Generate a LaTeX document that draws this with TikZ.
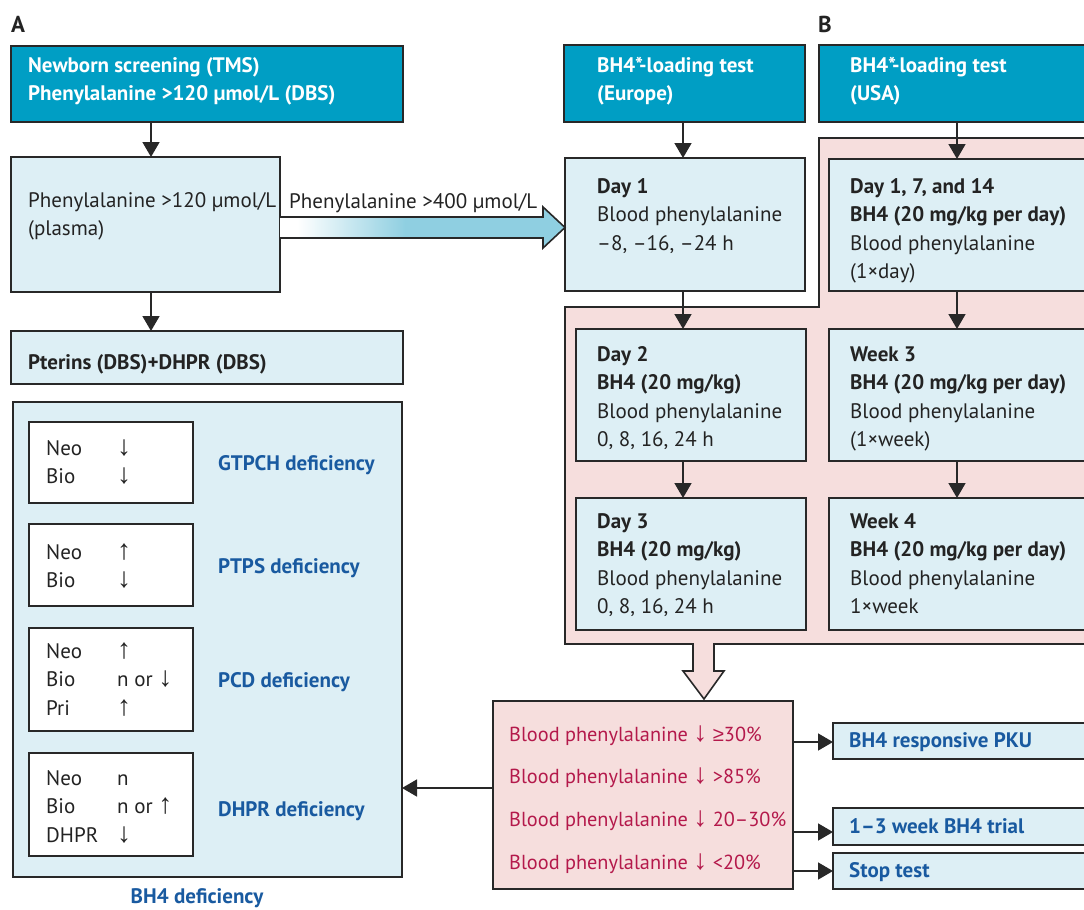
\documentclass[tikz,border=0pt]{standalone}
\usepackage{fontspec}
\setmainfont{PT Sans}
\newfontfamily\symf{Liberation Sans}
\usetikzlibrary{arrows.meta}
\definecolor{hdr}{RGB}{0,158,196}
\definecolor{lbl}{RGB}{221,239,245}
\definecolor{pnk}{RGB}{246,222,221}
\definecolor{abl}{RGB}{143,207,225}
\definecolor{redt}{RGB}{180,25,75}
\definecolor{bluet}{RGB}{25,90,160}
\definecolor{brd}{RGB}{40,40,40}
\definecolor{txt}{RGB}{35,35,35}
\pgfdeclarehorizontalshading{gshade}{100bp}{color(0bp)=(white); color(28bp)=(white); color(47bp)=(abl); color(100bp)=(abl)}
\newcommand\bodyf{\fontsize{21}{28.5}\selectfont}
\newcommand\redf{\fontsize{20.3}{42.7}\selectfont}
\newcommand\dn{{\symf\fontsize{28}{28.5}\selectfont ↓}}
\newcommand\up{{\symf\fontsize{28}{28.5}\selectfont ↑}}
\begin{document}
\begin{tikzpicture}[x=1pt,y=-1pt,
  box/.style={draw=brd, line width=1.6pt, anchor=north west, inner sep=0pt, outer sep=0pt},
  hbox/.style={box, fill=hdr},
  lbox/.style={box, fill=lbl},
  wbox/.style={box, fill=white},
  rbox/.style={box, fill=pnk},
  tx/.style={anchor=north west, inner sep=0pt, align=left, font=\bodyf, text=txt},
  htx/.style={tx, text=white, font=\bodyf\bfseries},
  btx/.style={anchor=base west, inner sep=0pt, font=\bodyf\bfseries, text=bluet},
  arr/.style={draw=brd, line width=1.6pt, -{Triangle[length=15pt,width=17pt]}}
]
\useasboundingbox (0,0) rectangle (1084,910);

% pink background region with hollow arrow
\draw[fill=pnk, draw=brd, line width=1.6pt, line join=miter]
  (819,138) -- (1095,138) -- (1095,644) -- (714,644) -- (714,671) -- (724,671)
  -- (704,699) -- (683,671) -- (693,671) -- (693,644) -- (565,644) -- (565,307)
  -- (819,307) -- cycle;

% panel letters
\node[anchor=base west, inner sep=0pt, font=\fontsize{23}{28}\selectfont\bfseries, text=txt] (lA) at (11,32) {A};
\node[anchor=base west, inner sep=0pt, font=\fontsize{23}{28}\selectfont\bfseries, text=txt] (lB) at (818,32) {B};

% boxes
\node[hbox, minimum width=392pt, minimum height=76pt] (nb) at (11,46) {};
\node[lbox, minimum width=269pt, minimum height=135pt] (pl) at (11,157) {};
\node[lbox, minimum width=392pt, minimum height=53pt] (pt) at (11,331) {};
\node[lbox, minimum width=389pt, minimum height=475pt] (bd) at (13,402) {};
\node[wbox, minimum width=164pt, minimum height=81pt] (i1) at (29,422) {};
\node[wbox, minimum width=164pt, minimum height=82pt] (i2) at (29,524) {};
\node[wbox, minimum width=164pt, minimum height=103pt] (i3) at (29,628) {};
\node[wbox, minimum width=164pt, minimum height=103pt] (i4) at (29,753) {};

\node[hbox, minimum width=241pt, minimum height=77pt] (eu) at (564,45) {};
\node[hbox, minimum width=276pt, minimum height=77pt] (us) at (819,45) {};
\node[lbox, minimum width=240pt, minimum height=133pt] (d1) at (565,158) {};
\node[lbox, minimum width=266pt, minimum height=132pt] (u1) at (829,159) {};
\node[lbox, minimum width=230pt, minimum height=132pt] (d2) at (576,329) {};
\node[lbox, minimum width=266pt, minimum height=132pt] (w3) at (829,329) {};
\node[lbox, minimum width=230pt, minimum height=132pt] (d3) at (576,498) {};
\node[lbox, minimum width=266pt, minimum height=132pt] (w4) at (829,498) {};

\node[rbox, minimum width=300pt, minimum height=188pt] (rd) at (493,701) {};
\node[lbox, minimum width=262pt, minimum height=36pt] (o1) at (833,723) {};
\node[lbox, minimum width=262pt, minimum height=37pt] (o2) at (833,808) {};
\node[lbox, minimum width=262pt, minimum height=36pt] (o3) at (833,853) {};

% gradient arrow
\coordinate (gt) at (0,217);
\coordinate (gb) at (0,238);
\coordinate (gm) at (0,227.5);
\coordinate (gx) at (543,0);
\coordinate (gh1) at (543,207);
\coordinate (gh2) at (543,248);
\shade[shading=gshade] (pl.east |- gt) -- (gx |- gt) -- (gh1) -- (d1.west |- gm)
  -- (gh2) -- (gx |- gb) -- (pl.east |- gb) -- cycle;
\draw[draw=brd, line width=1.6pt, line join=miter] (pl.east |- gt) -- (gx |- gt) -- (gh1) -- (d1.west |- gm)
  -- (gh2) -- (gx |- gb) -- (pl.east |- gb);
\node[anchor=base west, inner sep=0pt, font=\bodyf, text=txt] (t400) at (289,208) {Phenylalanine >400 µmol/L};

% connectors
\coordinate (xL) at (151,0);
\coordinate (xE) at (683,0);
\coordinate (xU) at (957,0);
\draw[arr] (nb.south -| xL) -- (pl.north -| xL);
\draw[arr] (pl.south -| xL) -- (pt.north -| xL);
\draw[arr] (eu.south -| xE) -- (d1.north -| xE);
\draw[arr] (d1.south -| xE) -- (d2.north -| xE);
\draw[arr] (d2.south -| xE) -- (d3.north -| xE);
\draw[arr] (us.south -| xU) -- (u1.north -| xU);
\draw[arr] (u1.south -| xU) -- (w3.north -| xU);
\draw[arr] (w3.south -| xU) -- (w4.north -| xU);
\coordinate (yA) at (0,788);
\coordinate (y1) at (0,742);
\coordinate (y2) at (0,832);
\coordinate (y3) at (0,871);
\draw[arr] (rd.west |- yA) -- (bd.east |- yA);
\draw[arr] (rd.east |- y1) -- (o1.west |- y1);
\draw[arr] (rd.east |- y2) -- (o2.west |- y2);
\draw[arr] (rd.east |- y3) -- (o3.west |- y3);

% texts
\node[htx] (tnb) at (28,52) {\strut Newborn screening (TMS)\\Phenylalanine >120 µmol/L (DBS)};
\node[tx] (tpl) at (28,187) {\strut Phenylalanine >120 µmol/L\\(plasma)};
\node[tx, font=\bodyf\bfseries] (tpt) at (28,349) {\strut Pterins (DBS)+DHPR (DBS)};
\node[htx] (teu) at (597,52) {\strut BH4*-loading test\\(Europe)};
\node[htx] (tus) at (850,52) {\strut BH4*-loading test\\(USA)};
\node[tx] (td1) at (597,173) {\strut\textbf{Day 1}\\Blood phenylalanine\\–8, –16, –24 h};
\node[tx] (tu1) at (850,173) {\strut\textbf{Day 1, 7, and 14}\\\textbf{BH4 (20 mg/kg per day)}\\Blood phenylalanine\\(1×day)};
\node[tx] (td2) at (597,341) {\strut\textbf{Day 2}\\\textbf{BH4 (20 mg/kg)}\\Blood phenylalanine\\0, 8, 16, 24 h};
\node[tx] (tw3) at (850,341) {\strut\textbf{Week 3}\\\textbf{BH4 (20 mg/kg per day)}\\Blood phenylalanine\\(1×week)};
\node[tx] (td3) at (597,508) {\strut\textbf{Day 3}\\\textbf{BH4 (20 mg/kg)}\\Blood phenylalanine\\0, 8, 16, 24 h};
\node[tx] (tw4) at (850,508) {\strut\textbf{Week 4}\\\textbf{BH4 (20 mg/kg per day)}\\Blood phenylalanine\\1×week};

\node[tx] (ti1) at (46,435) {\strut\makebox[71pt][l]{Neo}\dn\\\makebox[71pt][l]{Bio}\dn};
\node[tx] (ti2) at (46,539) {\strut\makebox[71pt][l]{Neo}\up\\\makebox[71pt][l]{Bio}\dn};
\node[tx] (ti3) at (46,638) {\strut\makebox[71pt][l]{Neo}\up\\\makebox[71pt][l]{Bio}n or \dn\\\makebox[71pt][l]{Pri}\up};
\node[tx] (ti4) at (46,765) {\strut\makebox[71pt][l]{Neo}n\\\makebox[71pt][l]{Bio}n or \up\\\makebox[71pt][l]{DHPR}\dn};

\node[btx] (lg) at (218,470) {GTPCH deficiency};
\node[btx] (lp) at (218,573) {PTPS deficiency};
\node[btx] (lc) at (218,687) {PCD deficiency};
\node[btx] (ld) at (218,816) {DHPR deficiency};
\node[btx, anchor=base] (lb) at (197,903) {BH4 deficiency};

\node[tx, font=\redf, text=redt] (trd) at (509,711) {\strut Blood phenylalanine \dn\ {\symf ≥}30\%\\Blood phenylalanine \dn\ >85\%\\Blood phenylalanine \dn\ 20–30\%\\Blood phenylalanine \dn\ <20\%};

\node[btx] (to1) at (849,747) {BH4 responsive PKU};
\node[btx] (to2) at (849,833) {1–3 week BH4 trial};
\node[btx] (to3) at (849,877) {Stop test};
\end{tikzpicture}
\end{document}
